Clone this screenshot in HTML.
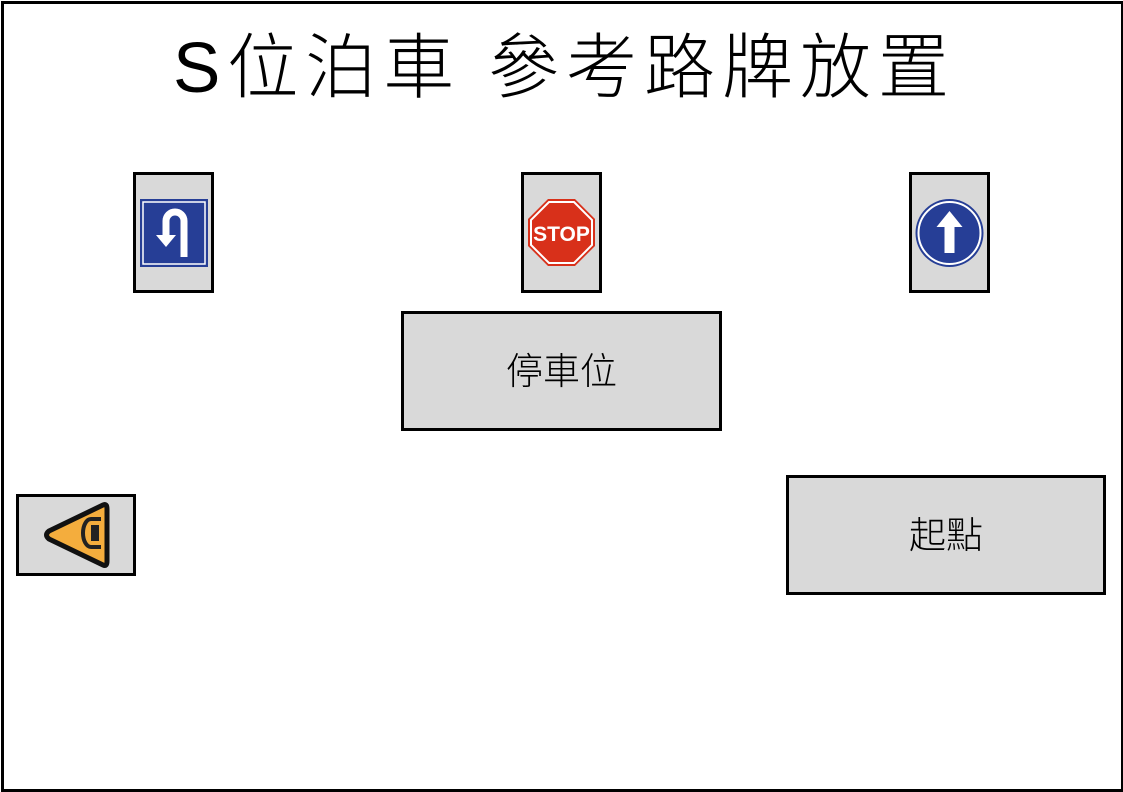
<!DOCTYPE html>
<html><head><meta charset="utf-8"><style>
body{margin:0;width:1123px;height:791px;background:#fff;position:relative;overflow:hidden;font-family:"Liberation Sans","Noto Sans CJK TC",sans-serif}
.frame{position:absolute;left:1px;top:1px;width:1117px;height:785px;border:3px solid #000}
.b{position:absolute;background:#d9d9d9;border:3px solid #000;box-sizing:border-box}
.t{position:absolute;left:0;top:24px;width:1123px;text-align:center;font-size:71px;line-height:90px;font-weight:300;letter-spacing:7px;padding-left:6px;box-sizing:border-box}
.lbl{display:flex;align-items:center;justify-content:center;font-size:37px;font-weight:300;padding-bottom:6px}
</style></head><body>
<div class="frame"></div>
<div class="t">S位泊車 參考路牌放置</div>
<div class="b" style="left:133px;top:172px;width:81px;height:121px">
<svg width="75" height="115" viewBox="0 0 75 115"><rect x="4" y="24" width="68" height="68" fill="#263e96"/><rect x="7" y="27" width="62" height="62" fill="none" stroke="#fff" stroke-width="1.5"/>
<path d="M48 82 V46 a9 9 0 0 0 -18 0 V62" fill="none" stroke="#fff" stroke-width="7"/><path d="M20 60 h20 l-10 12z" fill="#fff"/></svg></div>
<div class="b" style="left:521px;top:172px;width:81px;height:121px">
<svg width="75" height="115" viewBox="0 0 75 115"><polygon points="24,24 51,24 71,44 71,71 51,91 24,91 4,71 4,44" fill="#d8301a"/><polygon points="25,27 50,27 68,45 68,70 50,88 25,88 7,70 7,45" fill="none" stroke="#fff" stroke-width="2"/><text x="37.5" y="66" text-anchor="middle" font-size="21" font-weight="bold" fill="#fff" font-family="Liberation Sans Narrow,Liberation Sans,sans-serif">STOP</text></svg></div>
<div class="b" style="left:909px;top:172px;width:81px;height:121px">
<svg width="75" height="115" viewBox="0 0 75 115"><circle cx="37.5" cy="58" r="34" fill="#263e96"/><circle cx="37.5" cy="58" r="31" fill="none" stroke="#fff" stroke-width="2"/><path d="M37.5 36 l13 16 h-8 v26 h-10 v-26 h-8z" fill="#fff"/></svg></div>
<div class="b lbl" style="left:401px;top:311px;width:321px;height:120px">停車位</div>
<div class="b lbl" style="left:786px;top:475px;width:320px;height:120px">起點</div>
<div class="b" style="left:16px;top:494px;width:120px;height:82px">
<svg width="114" height="76" viewBox="0 0 114 76"><path d="M84 8 Q88 6 88 12 V64 Q88 70 84 68 L30 42 Q25 38 30 34 Z" fill="#f4ad3d" stroke="#111" stroke-width="5" stroke-linejoin="round"/><path d="M82 22 h-10 a8 14 0 0 0 0 28 h10" fill="none" stroke="#222" stroke-width="4"/><rect x="72" y="28" width="8" height="16" fill="#222"/></svg></div>
</body></html>
